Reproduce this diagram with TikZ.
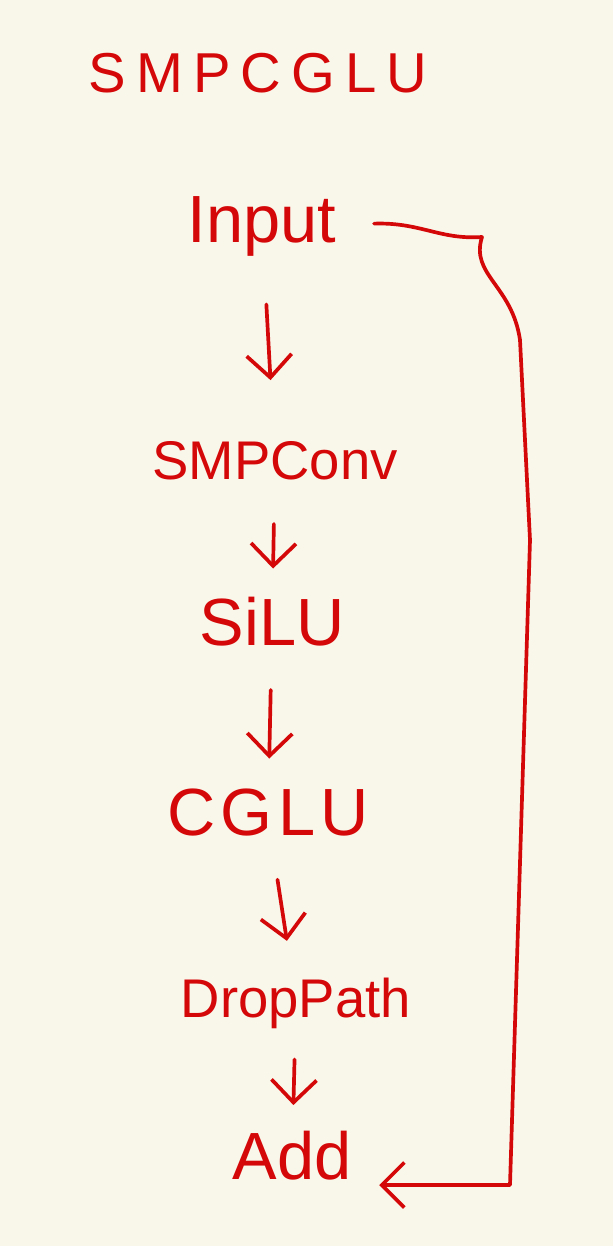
\documentclass[tikz,border=0pt]{standalone}
\usepackage{fontspec}
\setmainfont{Liberation Sans}
\usetikzlibrary{arrows.meta, positioning}
\definecolor{inkred}{RGB}{212,8,8}
\definecolor{paper}{RGB}{249,246,234}
\tikzset{
  x=0.02cm, y=-0.02cm, % one unit is one pixel of the sketch
  >={Straight Barb[length=4.5mm,width=9mm]}, % open hand-drawn heads
  layer/.style={text=inkred, inner sep=0pt, text height=28pt, text depth=8pt,
    font=\fontsize{38}{44}\selectfont}, % every block of the chain
  heading/.style={layer, font=\fontsize{32}{38}\selectfont\addfontfeatures{LetterSpace=18}},
  flow/.style={->, draw=inkred, line width=2.1pt, line cap=round, line join=round,
    shorten <=0.6cm, shorten >=0.55cm}
}

\begin{document}
\begin{tikzpicture}
  \fill[paper] (0,0) rectangle (613,1246);
  \useasboundingbox (0,0) rectangle (613,1246);

  \node[heading] (title) at (258,75) {SMPCGLU};
  \node[layer] (in) at (262,225) {Input};
  \node[layer, font=\fontsize{31}{36}\selectfont] (smp) at (275,462) {SMPConv};
  \node[layer] (silu) at (272,628) {SiLU};
  \node[layer, font=\fontsize{38}{44}\selectfont\addfontfeatures{LetterSpace=8}] (cglu) at (268,818) {CGLU};
  \node[layer, font=\fontsize{31}{36}\selectfont] (drop) at (296,1000) {DropPath};
  \node[layer] (add) at (292,1162) {Add};

  % skip path round the right side
  \coordinate (s1) at (482,237);
  \coordinate (s2) at (520,340);
  \coordinate (s3) at (530,540);
  \coordinate (s4) at (510,1185);

  \draw[flow, shorten <=0.95cm, shorten >=1cm] (in) -- (smp);
  \draw[flow] (smp) -- (silu);
  \draw[flow] (silu) -- (cglu);
  \draw[flow] (cglu) -- (drop);
  \draw[flow, shorten <=0.55cm, shorten >=0.5cm] (drop) -- (add);

  \draw[flow, shorten <=0.75cm, shorten >=0.55cm] (in.east) .. controls (420,222) and (440,240) .. (s1)
    .. controls (470,275) and (512,285) .. (s2) -- (s3) -- (s4) -- (add.east |- s4);
\end{tikzpicture}
\end{document}
